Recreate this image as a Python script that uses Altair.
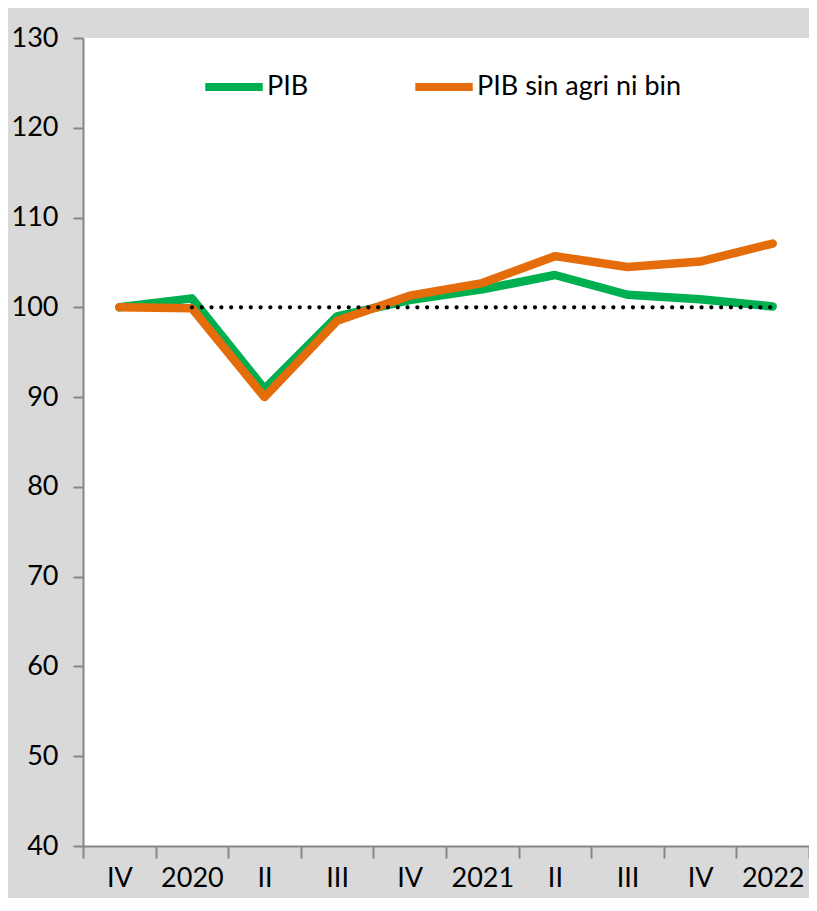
import altair as alt
import pandas as pd

# Categories (quarters) and their displayed tick labels
quarters = ["2019 IV", "2020 I", "2020 II", "2020 III", "2020 IV",
            "2021 I", "2021 II", "2021 III", "2021 IV", "2022 I"]
tick_labels = ["IV", "2020", "II", "III", "IV", "2021", "II", "III", "IV", "2022"]

# Series values (index, 2019 IV = 100)
pib = [100.0, 101.0, 90.9, 99.0, 100.8, 102.0, 103.6, 101.4, 100.9, 100.1]
pib_sin = [100.0, 99.9, 90.0, 98.5, 101.3, 102.7, 105.7, 104.5, 105.1, 107.1]
ref_quarters = quarters[1:]
ref_values = [100.0] * len(ref_quarters)

series_names = ["PIB", "PIB sin agri ni bin"]
series_colors = ["#00b050", "#e46c0a"]

rows = []
for name, vals in zip(series_names, [pib, pib_sin]):
    for q, v in zip(quarters, vals):
        rows.append({"q": q, "v": v, "s": name})
df = pd.DataFrame(rows)
ref_df = pd.DataFrame({"q": ref_quarters, "v": ref_values})

label_map = "{" + ",".join(f"'{q}':'{l}'" for q, l in zip(quarters, tick_labels)) + "}"

FONT = "Lato"
FS = 27

x_enc = alt.X("q:N", sort=quarters, scale=alt.Scale(domain=quarters, paddingInner=0, paddingOuter=0),
              axis=alt.Axis(title=None, labelExpr=f"{label_map}[datum.value]", labelAngle=0,
                            tickBand="extent", tickSize=12, labelPadding=7,
                            domainColor="#868686", tickColor="#868686", domainWidth=2, tickWidth=2,
                            labelFont=FONT, labelFontSize=FS, labelColor="black"))
y_enc = alt.Y("v:Q", scale=alt.Scale(domain=[40, 130], nice=False, zero=False),
              axis=alt.Axis(title=None, values=list(range(40, 131, 10)), tickSize=10, labelPadding=15,
                            domainColor="#868686", tickColor="#868686", domainWidth=2, tickWidth=2,
                            grid=False, labelFont=FONT, labelFontSize=FS, labelColor="black"))

ref_layer = alt.Chart(ref_df).mark_line(
    color="black", strokeWidth=4.2, strokeDash=[0.1, 9.7], strokeCap="round"
).encode(x=alt.X("q:N", sort=quarters), y=alt.Y("v:Q"))

lines = alt.Chart(df).mark_line(strokeWidth=8.5, strokeCap="round", strokeJoin="round").encode(
    x=x_enc, y=y_enc,
    color=alt.Color("s:N", sort=series_names,
                    scale=alt.Scale(domain=series_names, range=series_colors),
                    legend=alt.Legend(title=None, orient="none", direction="horizontal",
                                      legendX=118, legendY=16, symbolType="stroke",
                                      symbolSize=3300, symbolStrokeWidth=8,
                                      labelFont=FONT, labelFontSize=FS, labelColor="black",
                                      labelOffset=0, labelLimit=400, columnPadding=90)),
    order=alt.Order("s:N")
)

chart = alt.layer(lines, ref_layer).properties(
    width=726, height=808,
    background="#d9d9d9",
    padding={"left": 75, "top": 30, "right": 0, "bottom": 52},
    autosize=alt.AutoSizeParams(type="none"),
).configure_view(stroke=None, fill="white")

chart.save("out.html", embed_options={"renderer": "svg", "actions": False})
